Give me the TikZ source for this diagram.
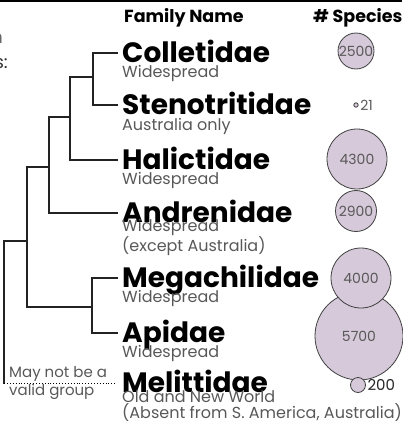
\documentclass[tikz,border=0pt]{standalone}
\usepackage{fontspec}
\setmainfont{Poppins}
\usetikzlibrary{positioning}

\definecolor{speciesfill}{RGB}{214,201,217}
\definecolor{branchgray}{RGB}{35,35,35}
\definecolor{notegray}{RGB}{88,88,88}

\begin{document}
\begin{tikzpicture}[x=1pt, y=-1pt,
    famname/.style={font=\bfseries\fontsize{28}{28}\selectfont, anchor=west,
                    inner xsep=5pt, inner ysep=0pt, text height=19pt, text depth=0pt},
    famnote/.style={font=\fontsize{16}{14}\selectfont, text=notegray, align=left,
                    anchor=base west, inner xsep=5pt, inner ysep=0pt},
    header/.style={font=\bfseries\fontsize{17.5}{17.5}\selectfont, anchor=base west, inner sep=0pt},
    spcircle/.style={circle, draw=black!75, fill=speciesfill, line width=0.8pt, inner sep=0pt,
                     text=black!65, font=\fontsize{14}{14}\selectfont},
    splabel/.style={font=\fontsize{15}{15}\selectfont, inner sep=1.5pt},
    branch/.style={draw=branchgray, line width=1.4pt, line cap=rect}]

\useasboundingbox (0,0) rectangle (402,423);
\fill[black] (0,0) rectangle (402,1.6);

% text cut off at the left edge
\node[font=\fontsize{18}{18}\selectfont, text=black!60, anchor=base east, inner sep=0pt] (cut1) at (3,43) {n};
\node[font=\fontsize{18}{18}\selectfont, text=black!80, anchor=base east, inner sep=0pt] (cut2) at (8,68) {s:};

% headers
\node[header] (hname) at (124,22) {Family Name};
\node[header] (hspec) at (313,22) {\# Species};

% families
\node[famname] (colle) at (117,53) {Colletidae};
\node[famname] (steno) at (117,105) {Stenotritidae};
\node[famname] (halic) at (117,160) {Halictidae};
\node[famname] (andre) at (117,213) {Andrenidae};
\node[famname] (megac) at (117,278) {Megachilidae};
\node[famname] (apida) at (117,333) {Apidae};
\node[famname] (melit) at (117,383) {Melittidae};

% base of a two-line note is its last line
\node[famnote] (colle-n) at ([yshift=-15pt]colle.base west) {Widespread};
\node[famnote] (steno-n) at ([yshift=-16pt]steno.base west) {Australia only};
\node[famnote] (halic-n) at ([yshift=-15pt]halic.base west) {Widespread};
\node[famnote] (andre-n) at ([yshift=-29pt]andre.base west) {Widespread\\(except Australia)};
\node[famnote] (megac-n) at ([yshift=-15pt]megac.base west) {Widespread};
\node[famnote] (apida-n) at ([yshift=-15pt]apida.base west) {Widespread};
\node[famnote] (melit-n) at ([yshift=-26pt]melit.base west) {Old and New World\\(Absent from S. America, Australia)};

% tree
\coordinate (cs) at (93,77);
\coordinate (csh) at (70,117);
\coordinate (csha) at (49,167);
\coordinate (ma) at (92,307);
\coordinate (bees) at (27,241);
\coordinate (melb) at (4,383);

\draw[branch] (colle.west) -| (cs) |- (steno.west);
\draw[branch] (cs) -| (csh) |- (halic.west);
\draw[branch] (csh) -| (csha) |- (andre.west);
\draw[branch] (megac.west) -| (ma) |- (apida.west);
\draw[branch] (csha) -| (bees) |- (ma);
\draw[branch] (bees) -| (melb);
\draw[dotted, line width=0.9pt] (melb) -- (melit.west);

\node[famnote, inner xsep=0pt, font=\fontsize{15}{14}\selectfont] (maynot) at (9,377) {May not be a};
\node[famnote, inner xsep=0pt, font=\fontsize{15}{14}\selectfont] (valid) at (9,395) {valid group};

% species counts
\node[spcircle, minimum size=36pt] (c2500) at (356,51) {2500};
\node[spcircle, minimum size=4.4pt, label={[splabel, text=black!65, font=\fontsize{14}{14}\selectfont]right:21}] (c21) at (356,105) {};
\node[spcircle, minimum size=60pt] (c4300) at (357,159) {4300};
\node[spcircle, minimum size=41pt] (c2900) at (356,211) {2900};
\node[spcircle, minimum size=88pt] (c5700) at (359,336) {5700};
\node[spcircle, minimum size=60pt] (c4000) at (361,278) {4000};
\node[spcircle, minimum size=15pt, label={[splabel, text=black!85]right:200}] (c200) at (358,385) {};
\end{tikzpicture}
\end{document}
